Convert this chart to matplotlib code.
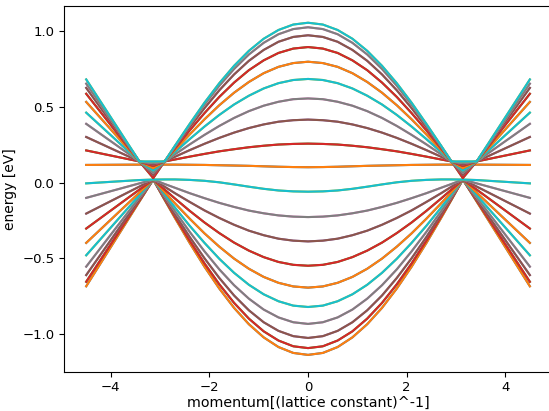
import matplotlib
matplotlib.use("Agg")
import matplotlib.pyplot as plt
import numpy as np

# momentum samples for k >= 0; the band structure is even in k
k_half = [0.0, 0.3, 0.6, 0.9, 1.2, 1.5, 1.8, 2.1, 2.4, 2.7, 2.91, 3.14, 3.42, 4.5]

# upper group, top band first (eV)
u0 = [1.058, 1.046, 1.010, 0.952, 0.872, 0.773, 0.658, 0.529, 0.389, 0.244, 0.140, 0.140, 0.140, 0.683]
u1 = [1.028, 1.016, 0.982, 0.925, 0.848, 0.752, 0.641, 0.516, 0.381, 0.241, 0.140, 0.130, 0.140, 0.655]
u2 = [0.975, 0.964, 0.932, 0.878, 0.806, 0.716, 0.611, 0.493, 0.367, 0.235, 0.140, 0.120, 0.140, 0.627]
u3 = [0.897, 0.887, 0.858, 0.809, 0.744, 0.662, 0.567, 0.460, 0.346, 0.226, 0.140, 0.110, 0.140, 0.588]
u4 = [0.800, 0.791, 0.766, 0.724, 0.666, 0.595, 0.512, 0.419, 0.319, 0.215, 0.140, 0.095, 0.140, 0.534]
u5 = [0.686, 0.679, 0.658, 0.623, 0.575, 0.517, 0.448, 0.371, 0.288, 0.202, 0.140, 0.080, 0.140, 0.463]
u6 = [0.557, 0.552, 0.535, 0.509, 0.473, 0.428, 0.375, 0.316, 0.253, 0.187, 0.140, 0.065, 0.140, 0.389]
u7 = [0.417, 0.413, 0.403, 0.385, 0.361, 0.331, 0.296, 0.257, 0.215, 0.171, 0.140, 0.050, 0.140, 0.302]
u8 = [0.258, 0.256, 0.252, 0.244, 0.234, 0.221, 0.207, 0.190, 0.172, 0.153, 0.140, 0.030, 0.140, 0.213]
u9 = [0.102, 0.103, 0.105, 0.108, 0.111, 0.113, 0.115, 0.117, 0.118, 0.119, 0.119, 0.119, 0.119, 0.117]

# lower group, band closest to zero first (eV)
l0 = [-0.060, -0.058, -0.052, -0.041, -0.027, -0.012, 0.002, 0.012, 0.018, 0.021, 0.021, 0.020, 0.017, -0.005]
l1 = [-0.228, -0.225, -0.217, -0.203, -0.185, -0.161, -0.134, -0.103, -0.070, -0.034, -0.009, 0.020, -0.005, -0.101]
l2 = [-0.389, -0.384, -0.371, -0.348, -0.318, -0.279, -0.234, -0.184, -0.128, -0.070, -0.027, 0.020, -0.026, -0.205]
l3 = [-0.550, -0.544, -0.525, -0.493, -0.450, -0.397, -0.334, -0.264, -0.187, -0.105, -0.046, 0.020, -0.046, -0.304]
l4 = [-0.695, -0.687, -0.663, -0.624, -0.570, -0.503, -0.424, -0.336, -0.239, -0.137, -0.063, 0.020, -0.066, -0.399]
l5 = [-0.823, -0.814, -0.785, -0.739, -0.676, -0.597, -0.504, -0.399, -0.286, -0.165, -0.077, 0.020, -0.083, -0.481]
l6 = [-0.935, -0.924, -0.892, -0.840, -0.768, -0.679, -0.574, -0.455, -0.326, -0.189, -0.090, 0.020, -0.098, -0.556]
l7 = [-1.028, -1.016, -0.981, -0.924, -0.845, -0.747, -0.631, -0.501, -0.360, -0.210, -0.101, 0.020, -0.110, -0.612]
l8 = [-1.095, -1.083, -1.045, -0.984, -0.900, -0.796, -0.673, -0.535, -0.384, -0.224, -0.109, 0.020, -0.119, -0.656]
l9 = [-1.140, -1.127, -1.088, -1.024, -0.937, -0.829, -0.701, -0.557, -0.400, -0.234, -0.114, 0.020, -0.125, -0.686]

# plotted from lowest to highest, each band is spin degenerate (drawn twice)
bands = [l9, l8, l7, l6, l5, l4, l3, l2, l1, l0,
         u9, u8, u7, u6, u5, u4, u3, u2, u1, u0]


def mirror(vals):
    v = np.asarray(vals)
    return np.concatenate([v[::-1], v[1:]])


k = np.concatenate([-np.asarray(k_half)[::-1], np.asarray(k_half)[1:]])

fig = plt.figure(figsize=(5.49, 4.11), dpi=100)
ax = fig.add_axes([0.1166, 0.0961, 0.889, 0.889])
for b in bands:
    e = mirror(b)
    ax.plot(k, e)
    ax.plot(k, e)

ax.set_xlabel("momentum[(lattice constant)^-1]", fontsize=10.3, labelpad=1)
ax.set_ylabel("energy [eV]", fontsize=10)
ax.tick_params(labelsize=9.5)
fig.savefig("out.png", dpi=100)
